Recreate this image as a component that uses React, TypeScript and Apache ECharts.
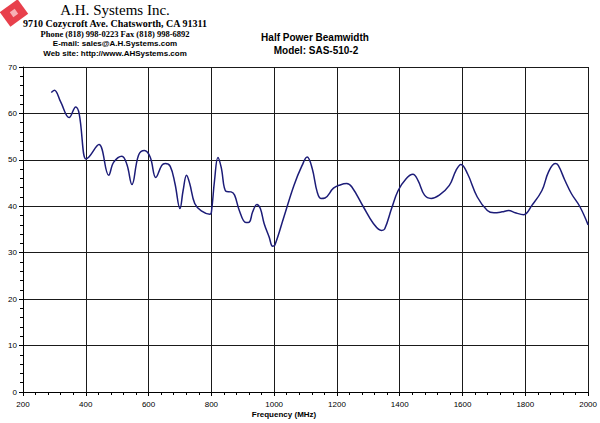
import React, { useEffect, useRef } from "react";
import * as echarts from "echarts";

const frequencies = [290, 300, 320, 347, 368, 379, 400, 410, 442, 473, 489, 515, 531, 547, 568, 587, 605, 623, 642, 653, 669, 684, 700, 710, 721, 731, 747, 768, 795, 800, 810, 821, 831, 847, 863, 874, 889, 910, 921, 931, 945, 956, 968, 984, 995, 1002, 1031, 1063, 1089, 1105, 1121, 1137, 1149, 1162, 1189, 1210, 1231, 1247, 1284, 1316, 1342, 1352, 1374, 1395, 1421, 1442, 1458, 1479, 1500, 1526, 1558, 1579, 1595, 1616, 1647, 1679, 1700, 1726, 1747, 1768, 1795, 1821, 1853, 1874, 1895, 1905, 1926, 1947, 1974, 2000];
const beamwidth = [64.5, 65, 62.5, 59.1, 61.4, 59.9, 50.2, 50.6, 53.3, 46.7, 49.5, 50.8, 49, 44.7, 51, 52, 50.6, 46.2, 48.8, 49.2, 48.6, 44.9, 39.5, 43.4, 46.7, 44.9, 40.6, 39.0, 38.3, 38.7, 45.5, 50.5, 48.5, 43.2, 43.1, 42.4, 39.1, 36.5, 36.6, 38.7, 40.4, 39.5, 36.3, 33.4, 31.4, 31.6, 37.7, 44.5, 48.8, 50.6, 48.2, 43.1, 41.7, 41.8, 43.9, 44.6, 44.9, 44.2, 39.9, 36.3, 34.8, 35.1, 39.5, 43.4, 46, 46.9, 45.6, 42.4, 41.7, 42.4, 44.5, 47.7, 49.0, 47, 42.0, 39.1, 38.6, 38.8, 39.1, 38.6, 38.2, 40.2, 43.4, 47.4, 49.2, 48.8, 45.6, 42.7, 39.9, 36.0];

const headerLines = [
  "A.H. Systems Inc.",
  "9710 Cozycroft Ave. Chatsworth, CA 91311",
  "Phone (818) 998-0223 Fax (818) 998-6892",
  "E-mail: sales@A.H.Systems.com",
  "Web site: http://www.AHSystems.com",
];
const chartTitle = "Half Power Beamwidth";
const chartSubtitle = "Model: SAS-510-2";
const xAxisTitle = "Frequency (MHz)";

export default function App() {
  const ref = useRef<HTMLDivElement>(null);
  useEffect(() => {
    const chart = echarts.init(ref.current!, null, { renderer: "svg" });
    const data = frequencies.map((f, i) => [f, beamwidth[i]]);
    const gridColor = "#1a1a1a";
    chart.setOption({
      animation: false,
      backgroundColor: "#ffffff",
      grid: { left: 23, right: 7, top: 67, bottom: 31, containLabel: false },
      xAxis: {
        type: "value",
        min: 200,
        max: 2000,
        interval: 200,
        axisLine: { show: true, onZero: false, lineStyle: { color: "#000", width: 1 } },
        axisTick: { show: true, inside: false, length: 4, lineStyle: { color: "#000" } },
        minorTick: { show: true, splitNumber: 5, length: 3, lineStyle: { color: "#000" } },
        axisLabel: {
          color: "#000",
          fontSize: 8,
          fontFamily: "Arial, Liberation Sans, sans-serif",
          margin: 8,
          formatter: (v: number) => String(v),
        },
        splitLine: { show: true, lineStyle: { color: gridColor, width: 1 } },
      },
      yAxis: {
        type: "value",
        min: 0,
        max: 70,
        interval: 10,
        axisLine: { show: true, lineStyle: { color: "#000", width: 1 } },
        axisTick: { show: true, inside: false, length: 4, lineStyle: { color: "#000" } },
        minorTick: { show: true, splitNumber: 5, length: 3, lineStyle: { color: "#000" } },
        axisLabel: { color: "#000", fontSize: 8, fontFamily: "Arial, Liberation Sans, sans-serif", margin: 6 },
        splitLine: { show: true, lineStyle: { color: gridColor, width: 1 } },
      },
      series: [
        {
          type: "line",
          data,
          smooth: 0.4,
          showSymbol: false,
          lineStyle: { color: "#1c1c78", width: 1.5 },
        },
      ],
      graphic: [
        {
          type: "group",
          x: 14,
          y: 13,
          rotation: Math.PI / 5,
          children: [
            { type: "rect", shape: { x: -11, y: -9, width: 22, height: 18 }, style: { fill: "#e8404c" } },
            { type: "rect", shape: { x: -3, y: -3, width: 6, height: 6 }, style: { fill: "#f7b0b5" } },
          ],
        },
        { type: "text", x: 115, y: 10, style: { text: headerLines[0], font: "15px 'Liberation Serif', 'DejaVu Serif', serif", fill: "#000", align: "center", verticalAlign: "middle" } },
        { type: "text", x: 115, y: 23, style: { text: headerLines[1], font: "bold 10px 'Liberation Serif', serif", fill: "#000", align: "center", verticalAlign: "middle" } },
        { type: "text", x: 115, y: 33.5, style: { text: headerLines[2], font: "bold 8.5px 'Liberation Serif', serif", fill: "#000", align: "center", verticalAlign: "middle" } },
        { type: "text", x: 115, y: 43.5, style: { text: headerLines[3], font: "bold 8px 'Liberation Sans', Arial, sans-serif", fill: "#000", align: "center", verticalAlign: "middle" } },
        { type: "text", x: 115, y: 53.5, style: { text: headerLines[4], font: "bold 8px 'Liberation Sans', Arial, sans-serif", fill: "#000", align: "center", verticalAlign: "middle" } },
        { type: "text", x: 315, y: 37, style: { text: chartTitle, font: "bold 10px 'Liberation Sans', Arial, sans-serif", fill: "#000", align: "center", verticalAlign: "middle" } },
        { type: "text", x: 316, y: 50, style: { text: chartSubtitle, font: "bold 10px 'Liberation Sans', Arial, sans-serif", fill: "#000", align: "center", verticalAlign: "middle" } },
        { type: "text", x: 284, y: 414, style: { text: xAxisTitle, font: "bold 8px 'Liberation Sans', Arial, sans-serif", fill: "#000", align: "center", verticalAlign: "middle" } },
      ],
    });
    return () => chart.dispose();
  }, []);
  return <div ref={ref} style={{ width: 600, height: 423, position: "absolute", left: 0, top: 0 }} />;
}
